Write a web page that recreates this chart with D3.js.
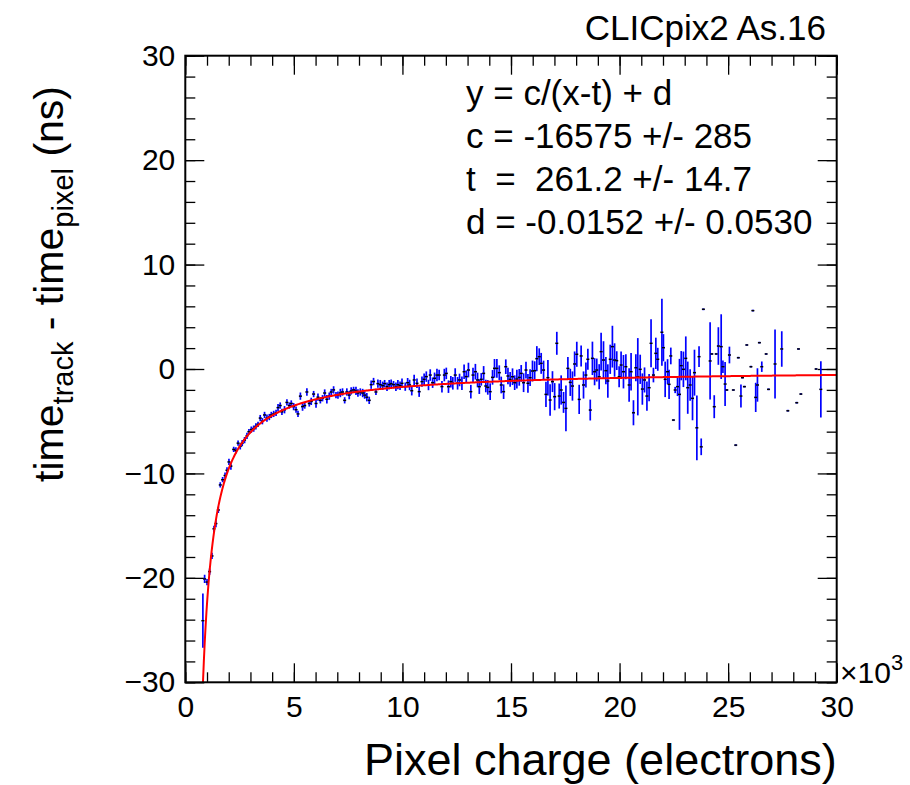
<!DOCTYPE html>
<html>
<head>
<meta charset="utf-8">
<script src="https://cdn.jsdelivr.net/npm/d3@7"></script>
<style>
  body { margin: 0; background: #fff; }
  text { font-family: "Liberation Sans", Arial, Helvetica, sans-serif; fill: #000; white-space: pre; }
</style>
</head>
<body>
<svg id="chart" width="910" height="785"></svg>
<script>
// profile points: pixel charge (electrons), mean time difference (ns), error (ns)
var charge = [
    810, 890, 1000, 1120, 1230, 1320, 1410, 1520, 1610, 1720,
    1830, 1920, 2010, 2100, 2230, 2330, 2430, 2530, 2620, 2730,
    2840, 2930, 3040, 3150, 3250, 3350, 3450, 3550, 3650, 3760,
    3870, 3960, 4070, 4180, 4270, 4370, 4450, 4570, 4680, 4790,
    4880, 4990, 5100, 5190, 5300, 5400, 5500, 5600, 5710, 5800,
    5910, 6020, 6110, 6220, 6320, 6420, 6520, 6630, 6720, 6830,
    6940, 7030, 7140, 7240, 7340, 7440, 7550, 7640, 7750, 7860,
    7950, 8060, 8170, 8260, 8360, 8470, 8560, 8670, 8780, 8870,
    8980, 9090, 9180, 9290, 9390, 9480, 9590, 9700, 9790,
    9890, 9980, 10130, 10240, 10330, 10430, 10540, 10670, 10770, 10900,
    11000, 11100, 11200, 11280, 11390, 11480, 11590, 11690, 11820, 11930,
    12020, 12120, 12230, 12320, 12430, 12540, 12630, 12740, 12840, 12940,
    13040, 13150, 13250, 13360, 13460,
    13540, 13630, 13740, 13840, 13930, 14040, 14150, 14240, 14350, 14460,
    14550, 14660, 14760, 14860, 14960, 15070, 15170, 15270, 15380, 15470,
    15580, 15690, 15780, 15880, 15990, 16090, 16190, 16300, 16390, 16500,
    16610, 16700, 16800, 16910, 17010, 17110, 17220, 17310, 17420, 17530,
    17620, 17730, 17830, 17930, 18030, 18140, 18230, 18340, 18450, 18540,
    18650, 18750, 18850, 18950, 19060, 19150, 19260, 19370, 19460, 19570,
    19670, 19770, 19870, 19980,
    20070, 20180, 20290, 20440, 20530, 20640, 20750, 20840, 20950, 21050,
    21150, 21260, 21360, 21450, 21560, 21670, 21760, 21950, 22020, 22100,
    22210, 22280, 22360, 22480, 22560, 22670, 22760, 22840, 22940, 23050,
    23140, 23250, 23360, 23450, 23560, 23660, 23760, 23860,
    24170, 24250, 24360, 24450, 24550, 24680, 24760, 24860, 24940, 25060,
    25240, 25350, 25470, 25590, 25660, 25750, 25860, 26050, 26140, 26270,
    26350, 26440, 26550, 26750, 26860, 27160, 27470, 27750, 28160, 28240,
    28350, 29050, 29270
];
var timeDiff = [
    -24.1, -20.1, -20.4, -19.4, -17.9, -15.3, -14.8, -13.5, -11.1, -10.6,
    -10.2, -9.7, -8.9, -9.3, -7.7, -7.8, -7.1, -7.4, -7.1, -6.8,
    -6.4, -6.0, -5.8, -5.7, -5.5, -5.3, -4.7, -5.0, -4.4, -4.7,
    -4.6, -4.4, -4.3, -4.2, -3.7, -3.5, -4.1, -3.9, -3.2, -3.5,
    -3.3, -3.6, -3.9, -4.3, -2.6, -3.6, -3.5, -2.2, -3.3, -3.1,
    -2.4, -3.3, -2.7, -3.0, -2.8, -2.3, -2.9, -2.6, -2.2, -2.0,
    -2.5, -2.5, -2.3, -2.2, -3.0, -2.2, -2.5, -2.1, -2.0, -2.1,
    -2.3, -2.2, -2.3, -2.5, -2.7, -3.0, -1.5, -1.2, -2.2, -1.4,
    -1.5, -1.6, -1.4, -1.7, -1.5, -1.4, -1.5, -1.7, -1.5,
    -1.6, -1.37, -1.69, -1.31, -1.53, -2.08, -1.05, -1.37, -2.17, -1.21,
    -0.99, -0.73, -1.53, -0.58, -1.31, -0.89, -0.58, -0.58, -1.69, -0.58,
    -0.42, -1.69, -1.21, -1.37, -0.58, -1.37, -1.05, -1.37, -0.26, -0.73,
    -0.10, -2.17, -0.58, -0.26, -1.05,
    -1.69, -0.99, -0.42, -1.63, -1.76, -2.17, -0.80, 0.06, 0.06, -0.35,
    -1.53, -2.17, 0.22, -0.67, -0.99, -0.74, -1.31, -0.96, -0.80, -0.42,
    -1.31, -0.10, -1.37, -0.83, -0.19, -0.16, 0.99, 1.18, 0.54, -0.10,
    -2.43, -0.83, -2.97, -1.21, -2.65, 2.46, -2.59, -2.01, -3.20, -3.77,
    0.06, -1.28, -1.63, 0.48, 1.41, -2.91, 1.25, -1.53, -0.58, 0.93,
    -3.93, 1.02, -0.26, -0.10, -0.74, 1.66, 0.86, -0.16, -1.15, 0.93,
    2.14, 0.86, 0.80, -0.74,
    0.38, -0.26, 0.22, -1.53, -0.26, -4.19, 0.12, -0.74, -0.03, -1.92,
    -1.05, -2.59, -1.79, 2.46, -0.58, 1.50, 0.93, 3.52, 2.04, -0.99,
    -0.26, -1.47, 1.25, -4.89, -2.01, -1.69, -2.43, 0.32, -0.03, 1.02,
    -1.79, -1.53, -2.81, -0.35, -5.63, 1.18, -7.45, 5.72,
    0.77, 1.44, -3.61, 1.44, 2.20, 2.14, 0.22, -1.44, -2.01, 1.34,
    -2.01, -7.29, 1.08, -2.59, -0.83, -1.69, 2.30, 0.22, 5.59, -2.72,
    -1.53, 2.52, 0.22, 1.44, -1.95, 0.48, 1.92, -4.00, -3.23, 1.92,
    -2.40, 0.00, -1.95
];
var timeErr = [
    2.6, 0.4, 0.3, 0.3, 0.3, 0.3, 0.35, 0.3, 0.25, 0.25,
    0.3, 0.3, 0.3, 0.35, 0.25, 0.3, 0.25, 0.3, 0.3, 0.3,
    0.3, 0.25, 0.3, 0.3, 0.3, 0.25, 0.3, 0.3, 0.3, 0.35,
    0.3, 0.3, 0.3, 0.3, 0.35, 0.3, 0.3, 0.35, 0.3, 0.3,
    0.3, 0.35, 0.3, 0.3, 0.35, 0.4, 0.3, 0.35, 0.3, 0.35,
    0.3, 0.4, 0.35, 0.3, 0.3, 0.35, 0.4, 0.35, 0.3, 0.35,
    0.3, 0.35, 0.4, 0.35, 0.3, 0.35, 0.4, 0.35, 0.3, 0.4,
    0.35, 0.35, 0.4, 0.35, 0.4, 0.35, 0.4, 0.35, 0.3, 0.4,
    0.45, 0.4, 0.35, 0.4, 0.45, 0.4, 0.35, 0.4, 0.45,
    0.4, 0.45, 0.4, 0.45, 0.5, 0.45, 0.5, 0.45, 0.5, 0.5,
    0.55, 0.5, 0.5, 0.55, 0.5, 0.55, 0.6, 0.5, 0.55, 0.6,
    0.55, 0.6, 0.55, 0.6, 0.65, 0.6, 0.6, 0.65, 0.7, 0.6,
    0.7, 0.65, 0.7, 0.75, 0.7,
    0.7, 0.6, 0.7, 0.6, 0.7, 0.8, 0.7, 0.9, 0.9, 0.7,
    0.8, 0.7, 0.7, 0.8, 0.7, 0.8, 0.7, 0.9, 0.8, 0.8,
    0.9, 0.8, 0.9, 0.8, 1.0, 0.9, 1.2, 0.8, 1.0, 0.9,
    1.2, 1.7, 1.5, 1.0, 1.3, 1.1, 1.2, 1.4, 1.0, 2.2,
    1.1, 1.3, 1.4, 1.2, 1.2, 1.4, 1.0, 1.3, 1.2, 1.0,
    1.0, 1.6, 1.3, 1.1, 1.2, 1.8, 1.8, 1.3, 1.6, 1.4,
    2.0, 1.6, 0.9, 1.0,
    1.3, 1.6, 1.2, 1.6, 1.8, 1.2, 1.3, 3.7, 1.4, 1.5,
    1.2, 1.4, 1.3, 2.3, 0.7, 1.5, 1.1, 3.2, 1.3, 1.7,
    1.2, 1.4, 0.8, 0, 0.3, 0.9, 3.4, 1.4, 1.7, 2.1,
    2.5, 1.5, 2.1, 2.2, 3.1, 1.0, 0.8, 0,
    3.7, 0, 1.1, 0, 1.8, 3.1, 0.6, 2.1, 0, 0.8,
    0, 0, 0, 1.1, 0, 0, 0, 0, 0, 1.4,
    1.6, 0, 0.5, 0, 0, 3.3, 1.7, 0, 0, 0,
    0, 0, 2.7
];

// fit result y = c/(x-t) + d
var fitC = -16575, fitT = 261.2, fitD = -0.0152;
var fitLines = ['y = c/(x-t) + d', 'c = -16575 +/- 285', 't  =  261.2 +/- 14.7', 'd = -0.0152 +/- 0.0530'];
var binWidth = 100;

var xTicks = [0, 5000, 10000, 15000, 20000, 25000, 30000],
    yTicks = [-30, -20, -10, 0, 10, 20, 30],
    xMinor = d3.range(0, 30001, 1000),
    yMinor = d3.range(-30, 31, 2);

var frame = {left: 185.3, right: 836.7, top: 55.7, bottom: 682.3};

var svg = d3.select('svg#chart');

var xScale = d3.scaleLinear().domain([0, 30000]).range([frame.left, frame.right]);
var yScale = d3.scaleLinear().domain([-30, 30]).range([frame.bottom, frame.top]);

function drawAxis(gen, tx, ty, values, size, fmt) {
    var g = svg.append('g')
        .attr('transform', 'translate(' + tx + ',' + ty + ')')
        .call(gen.tickValues(values).tickSize(size).tickFormat(fmt || ''));
    g.select('.domain').remove();
    g.selectAll('line').attr('stroke', '#000').attr('stroke-width', 1.3);
    return g;
}

// ticks on all four sides, pointing inwards
var bottomAxis = drawAxis(d3.axisBottom(xScale), 0, frame.bottom, xTicks, -19, function(d) { return d / 1000; });
drawAxis(d3.axisBottom(xScale), 0, frame.bottom, xMinor, -10);
drawAxis(d3.axisTop(xScale), 0, frame.top, xTicks, -19);
drawAxis(d3.axisTop(xScale), 0, frame.top, xMinor, -10);
var leftAxis = drawAxis(d3.axisLeft(yScale), frame.left, 0, yTicks, -19, d3.format('d'));
drawAxis(d3.axisLeft(yScale), frame.left, 0, yMinor, -10);
drawAxis(d3.axisRight(yScale), frame.right, 0, yTicks, -19);
drawAxis(d3.axisRight(yScale), frame.right, 0, yMinor, -10);

bottomAxis.selectAll('text')
    .attr('y', 35).attr('dy', 0)
    .style('font-size', '30px');
leftAxis.selectAll('text')
    .attr('x', -10)
    .style('font-size', '30px');

svg.append('defs').append('clipPath').attr('id', 'plot-clip')
    .append('rect')
    .attr('x', frame.left).attr('y', frame.top)
    .attr('width', frame.right - frame.left).attr('height', frame.bottom - frame.top);

var points = charge.map(function(c, i) {
    return {x: c, y: timeDiff[i], e: timeErr[i]};
});

var plot = svg.append('g').attr('clip-path', 'url(#plot-clip)');

// error bars
plot.selectAll('.ebar').data(points.filter(function(d) { return d.e > 0; }))
    .enter().append('line')
    .attr('class', 'ebar')
    .attr('x1', function(d) { return xScale(d.x); })
    .attr('x2', function(d) { return xScale(d.x); })
    .attr('y1', function(d) { return yScale(d.y - d.e); })
    .attr('y2', function(d) { return yScale(d.y + d.e); })
    .attr('stroke', '#0000ff')
    .attr('stroke-width', 1.7);

plot.selectAll('.xbar').data(points)
    .enter().append('line')
    .attr('class', 'xbar')
    .attr('x1', function(d) { return xScale(d.x - binWidth / 2); })
    .attr('x2', function(d) { return xScale(d.x + binWidth / 2); })
    .attr('y1', function(d) { return yScale(d.y); })
    .attr('y2', function(d) { return yScale(d.y); })
    .attr('stroke', '#3030ff')
    .attr('stroke-width', 2);

plot.selectAll('.dot').data(points)
    .enter().append('rect')
    .attr('class', 'dot')
    .attr('x', function(d) { return xScale(d.x) - 1.5; })
    .attr('y', function(d) { return yScale(d.y) - 0.7; })
    .attr('width', 3)
    .attr('height', 1.4)
    .attr('fill', '#000');

// fitted function, from where it enters the frame up to the axis end
var fitStart = fitT + fitC / (-30 - fitD);
var fitX = d3.range(fitStart, 30000, 40).concat([30000]);
var fitLine = d3.line()
    .x(function(v) { return xScale(v); })
    .y(function(v) { return yScale(fitC / (v - fitT) + fitD); });
plot.append('path')
    .attr('d', fitLine(fitX))
    .attr('fill', 'none')
    .attr('stroke', '#ff0000')
    .attr('stroke-width', 2);

// frame
svg.append('rect')
    .attr('x', frame.left).attr('y', frame.top)
    .attr('width', frame.right - frame.left).attr('height', frame.bottom - frame.top)
    .attr('fill', 'none').attr('stroke', '#000').attr('stroke-width', 2);

// fit parameters
svg.selectAll('.fit-text').data(fitLines)
    .enter().append('text')
    .attr('class', 'fit-text')
    .attr('x', 466)
    .attr('y', function(d, i) { return 105 + i * 43; })
    .style('font-size', '35px')
    .text(function(d) { return d; });

svg.append('text')
    .attr('x', 826).attr('y', 40)
    .attr('text-anchor', 'end')
    .style('font-size', '35px')
    .text('CLICpix2 As.16');

// axis exponent
var expo = svg.append('text').attr('x', 840).attr('y', 683).style('font-size', '30px');
expo.append('tspan').text('\u00d710');
expo.append('tspan').attr('dy', -13).style('font-size', '22px').text('3');

// axis titles
svg.append('text')
    .attr('x', frame.right).attr('y', 775)
    .attr('text-anchor', 'end')
    .style('font-size', '45px')
    .text('Pixel charge (electrons)');

var yTitle = svg.append('text')
    .attr('transform', 'translate(63,86) rotate(-90)')
    .attr('text-anchor', 'end')
    .style('font-size', '41px');
yTitle.append('tspan').text('time');
yTitle.append('tspan').attr('dy', 10).style('font-size', '29px').text('track');
yTitle.append('tspan').attr('dy', -10).text(' - time');
yTitle.append('tspan').attr('dy', 10).style('font-size', '29px').text('pixel');
yTitle.append('tspan').attr('dy', -10).text(' (ns)');
</script>
</body>
</html>
